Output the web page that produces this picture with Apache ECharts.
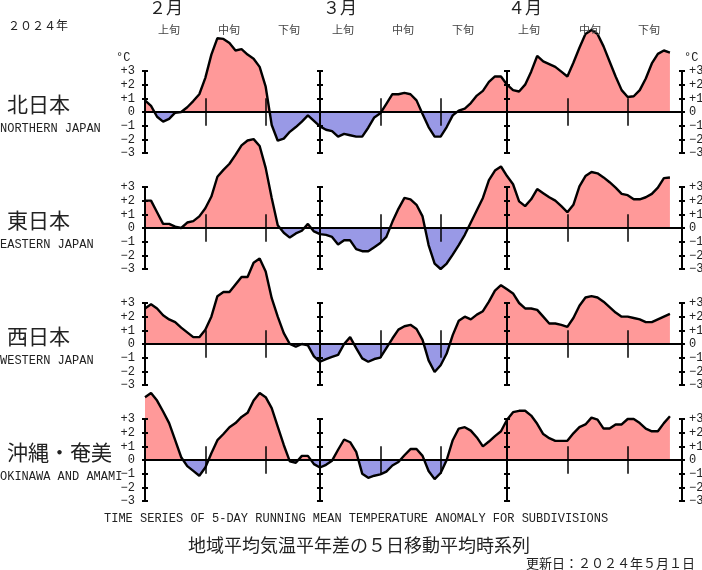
<!DOCTYPE html>
<html lang="ja">
<head>
  <meta charset="UTF-8">
  <title>地域平均気温平年差の5日移動平均時系列</title>
  <style>
    html, body { margin: 0; padding: 0; background: #fff; }
    #main { width: 702px; height: 570px; }
  </style>
</head>
<body>
  <div id="main"></div>
  <script src="https://cdn.jsdelivr.net/npm/echarts@6/dist/echarts.min.js"></script>
  <script>
    // 2/1 から 4/28 までの日別の値
    const northernJapan = [
      0.85, 0.45, -0.35, -0.7, -0.5, -0.05, 0, 0.35, 0.8, 1.3, 2.5, 4.2, 5.4, 5.35, 5.05, 4.5, 4.6, 4.2, 3.9, 3.3,
      1.85, -0.95, -2.1, -1.95, -1.45, -1.1, -0.7, -0.25, -0.65, -1.05, -1.3, -1.4, -1.8, -1.6, -1.7, -1.8, -1.8, -1.15, -0.4, -0.1,
      0.6, 1.3, 1.3, 1.4, 1.3, 0.85, -0.15, -1.1, -1.8, -1.8, -1.1, -0.25, 0.1, 0.25, 0.65, 1.2, 1.55, 2.2, 2.6, 2.6,
      2.0, 1.6, 1.5, 2.0, 2.95, 4.1, 3.7, 3.5, 3.3, 2.95, 2.6, 3.6, 4.7, 5.7, 6.0, 5.7, 4.8, 3.7, 2.6, 1.6,
      1.1, 1.15, 1.6, 2.45, 3.55, 4.25, 4.5, 4.35
    ];
    const easternJapan = [
      2.0, 2.0, 1.15, 0.3, 0.3, 0.1, 0, 0.4, 0.5, 0.85, 1.45, 2.3, 3.75, 4.25, 4.7, 5.35, 6.05, 6.4, 6.5, 6.0,
      4.4, 2.2, 0.2, -0.35, -0.7, -0.4, -0.2, 0.3, -0.25, -0.45, -0.5, -0.65, -1.2, -0.9, -0.9, -1.55, -1.7, -1.7, -1.4, -1.1,
      -0.65, 0.45, 1.4, 2.2, 2.1, 1.7, 0.85, -1.25, -2.6, -3.0, -2.6, -1.95, -1.25, -0.5, 0.4, 1.3, 2.2, 3.5, 4.2, 4.5,
      3.8, 3.2, 1.95, 1.6, 2.1, 2.85, 2.55, 2.25, 2.0, 1.6, 1.15, 1.7, 3.05, 3.8, 4.1, 4.0, 3.7, 3.35, 2.95, 2.5,
      2.4, 2.1, 2.1, 2.25, 2.5, 2.95, 3.65, 3.7
    ];
    const westernJapan = [
      2.6, 2.9, 2.6, 2.1, 1.8, 1.6, 1.2, 0.85, 0.5, 0.5, 1.05, 2.0, 3.5, 3.8, 3.8, 4.35, 4.9, 4.9, 5.95, 6.25,
      5.3, 3.35, 2.0, 0.8, 0, -0.2, 0, -0.1, -0.9, -1.3, -1.1, -0.95, -0.8, 0, 0.5, -0.3, -1.05, -1.3, -1.1, -1.0,
      -0.3, 0.4, 1.05, 1.3, 1.4, 1.1, 0.3, -1.2, -2.05, -1.55, -0.7, 0.65, 1.7, 2.0, 1.8, 2.15, 2.4, 3.1, 3.9, 4.3,
      4.0, 3.7, 3.0, 2.6, 2.6, 2.5, 2.0, 1.5, 1.5, 1.4, 1.25, 1.9, 2.8, 3.4, 3.5, 3.4, 3.1, 2.7, 2.3, 2.0,
      2.0, 1.9, 1.8, 1.6, 1.6, 1.8, 2.0, 2.2
    ];
    const okinawaAmami = [
      4.6, 4.9, 4.35, 3.55, 2.7, 1.45, 0.2, -0.45, -0.8, -1.15, -0.55, 0.5, 1.45, 1.9, 2.4, 2.7, 3.15, 3.45, 4.35, 4.9,
      4.6, 3.8, 2.45, 1.1, -0.1, -0.2, 0.3, 0.3, -0.3, -0.55, -0.35, -0.05, 0.75, 1.5, 1.3, 0.6, -1.0, -1.3, -1.15, -1.05,
      -0.85, -0.4, -0.15, 0.35, 0.8, 0.8, 0.3, -0.8, -1.4, -0.95, 0, 1.45, 2.3, 2.4, 2.15, 1.65, 1.0, 1.35, 1.75, 2.1,
      2.95, 3.5, 3.6, 3.6, 3.25, 2.65, 1.9, 1.6, 1.4, 1.4, 1.4, 1.95, 2.4, 2.6, 3.1, 2.95, 2.3, 2.3, 2.6, 2.6,
      3.0, 3.0, 2.7, 2.3, 2.1, 2.1, 2.7, 3.2
    ];
    const regionValues = [northernJapan, easternJapan, westernJapan, okinawaAmami];
    const regionNames = ['北日本', '東日本', '西日本', '沖縄・奄美'];
    const regionNamesEn = ['NORTHERN JAPAN', 'EASTERN JAPAN', 'WESTERN JAPAN', 'OKINAWA AND AMAMI'];

    const monthLabels = ['２月', '３月', '４月'];
    const dekadLabels = ['上旬', '中旬', '下旬', '上旬', '中旬', '下旬', '上旬', '中旬', '下旬'];
    const dekadDays = [10, 20, 39, 49, 70, 80];   // 旬の区切り (2/1 からの日数)
    const monthDays = [29, 60];                   // 3/1, 4/1

    const INK = '#000';
    const TEXT = '#222';
    const MONO = '"Liberation Mono", monospace';
    const CJK = '"Noto Sans CJK JP", sans-serif';
    const gridLeft = 145, gridWidth = 537, xMax = 89;
    const gridTops = [71, 187, 303, 419];
    const pxPerDay = gridWidth / xMax;

    const grids = [], xAxes = [], yAxes = [], series = [], areaIndex = [];

    function addY(gridIndex, position, offset, inside, labelled) {
      yAxes.push({
        gridIndex: gridIndex, type: 'value', min: -3, max: 3, interval: 1,
        position: position, offset: offset, z: 3,
        splitLine: { show: false },
        axisLine: { show: true, onZero: false, lineStyle: { color: INK, width: 2 } },
        axisTick: { show: true, inside: inside, length: 3, lineStyle: { color: INK, width: 2 } },
        axisLabel: {
          show: labelled, margin: position === 'left' ? 10 : 7, color: TEXT, fontFamily: MONO, fontSize: 12,
          formatter: v => (v > 0 ? '+' + v : v < 0 ? '\u2212' + (-v) : '0')
        }
      });
    }

    regionValues.forEach((values, g) => {
      // ラベルが右端に届くのでグリッドを縮めさせない
      grids.push({ left: gridLeft, top: gridTops[g], width: gridWidth, height: 82, outerBoundsMode: 'none' });
      xAxes.push({
        gridIndex: g, type: 'value', min: 0, max: xMax, z: 3,
        splitLine: { show: false }, axisTick: { show: false }, axisLabel: { show: false },
        axisLine: { show: true, onZero: true, lineStyle: { color: INK, width: 2 } }
      });
      const yIndex = yAxes.length;
      addY(g, 'left', 0, false, true);
      addY(g, 'left', 0, true, false);
      addY(g, 'right', 0, false, true);
      addY(g, 'right', 0, true, false);
      monthDays.forEach(day => {
        addY(g, 'left', -day * pxPerDay, false, false);
        addY(g, 'left', -day * pxPerDay, true, false);
      });
      const points = values.map((v, i) => [i, v]);
      areaIndex.push(series.length);
      series.push({
        type: 'line', xAxisIndex: g, yAxisIndex: yIndex, data: points, clip: false,
        symbol: 'none', silent: true, animation: false, z: 2,
        lineStyle: { width: 0 }, areaStyle: { opacity: 1 }
      });
      series.push({
        type: 'line', xAxisIndex: g, yAxisIndex: yIndex, data: points, clip: false,
        symbol: 'none', silent: true, animation: false, z: 4,
        lineStyle: { color: INK, width: 2.4 },
        markLine: {
          silent: true, symbol: 'none', animation: false, z: 3,
          label: { show: false },
          lineStyle: { color: INK, width: 1.5, type: 'solid' },
          data: dekadDays.map(d => [{ coord: [d, -1] }, { coord: [d, 1] }])
        }
      });
    });

    function text(str, x, y, size, family, align, color) {
      return {
        type: 'text', x: x, y: y, z: 10,
        style: {
          text: str, fontSize: size, fontFamily: family, fill: color || TEXT,
          align: align || 'left', verticalAlign: 'middle'
        }
      };
    }

    const monthX = [166, 340, 525];
    const dekadX = [169, 229, 289, 343, 403, 463, 529, 590, 649];
    const labels = [
      text('２０２４年', 8, 25, 12, CJK),
      text('°C', 116, 58, 12, MONO),
      text('°C', 684, 58, 12, MONO),
      text('TIME SERIES OF 5-DAY RUNNING MEAN TEMPERATURE ANOMALY FOR SUBDIVISIONS', 104, 519, 12, MONO),
      text('地域平均気温平年差の５日移動平均時系列', 188, 545, 18, CJK),
      text('更新日：２０２４年５月１日', 526, 563, 13, CJK)
    ];
    monthLabels.forEach((m, i) => labels.push(text(m, monthX[i], 8, 17, CJK, 'center')));
    dekadLabels.forEach((d, i) => labels.push(text(d, dekadX[i], 30, 11, CJK, 'center', '#444')));
    regionNames.forEach((name, i) => {
      labels.push(text(name, 7, 104 + 116 * i, 21, CJK));
      labels.push(text(regionNamesEn[i], 0, 128.5 + 116 * i, 12, MONO));
    });

    const myChart = echarts.init(document.getElementById('main'), null, { renderer: 'canvas' });
    myChart.setOption({
      animation: false,
      backgroundColor: '#fff',
      grid: grids,
      xAxis: xAxes,
      yAxis: yAxes,
      visualMap: {
        show: false, type: 'piecewise', dimension: 1, seriesIndex: areaIndex,
        pieces: [
          { min: -10, max: 0, color: '#9999e6' },
          { min: 0, max: 10, color: '#ff9999' }
        ]
      },
      series: series,
      graphic: { elements: labels }
    });
  </script>
</body>
</html>
